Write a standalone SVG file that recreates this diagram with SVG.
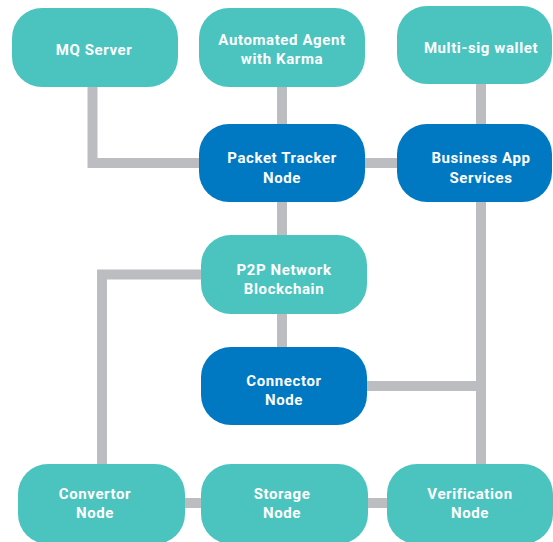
<svg xmlns="http://www.w3.org/2000/svg" width="553" height="542" viewBox="0 0 553 542">
  <style>
    .teal { fill: #4BC4C0; }
    .blue { fill: #0079C2; }
    .lbl { fill: #FFFFFF; font-family: Roboto, "Liberation Sans", sans-serif; font-weight: 700; font-size: 15px; letter-spacing: 0.6px; text-anchor: middle; }
    .wire { fill: none; stroke: #BCBDC0; stroke-width: 10; stroke-linejoin: miter; }
  </style>
  <rect width="553" height="542" fill="#FFFFFF"/>

  <!-- connectors drawn first so nodes sit on top -->
  <g id="connectors">
    <polyline class="wire" points="92.5,87 92.5,163 199,163"/>
    <line class="wire" x1="282" y1="87" x2="282" y2="124"/>
    <line class="wire" x1="481" y1="84" x2="481" y2="124"/>
    <line class="wire" x1="365" y1="163" x2="397" y2="163"/>
    <line class="wire" x1="282" y1="202" x2="282" y2="235"/>
    <line class="wire" x1="282" y1="314" x2="282" y2="347"/>
    <polyline class="wire" points="201,274.5 102,274.5 102,464"/>
    <line class="wire" x1="367" y1="386" x2="481" y2="386"/>
    <line class="wire" x1="481" y1="202" x2="481" y2="464"/>
    <line class="wire" x1="185" y1="503" x2="201" y2="503"/>
    <line class="wire" x1="368" y1="503" x2="387" y2="503"/>
  </g>

  <g id="mq-server">
    <rect class="teal" x="12" y="8" width="166" height="79" rx="30"/>
    <text class="lbl" x="94" y="55">MQ Server</text>
  </g>
  <g id="automated-agent">
    <rect class="teal" x="199" y="8" width="166" height="79" rx="30"/>
    <text class="lbl" x="282" y="45">Automated Agent</text>
    <text class="lbl" x="282" y="64">with Karma</text>
  </g>
  <g id="multisig-wallet">
    <rect class="teal" x="397" y="6" width="155" height="78" rx="30"/>
    <text class="lbl" x="481" y="53">Multi-sig wallet</text>
  </g>
  <g id="packet-tracker">
    <rect class="blue" x="199" y="124" width="166" height="78" rx="30"/>
    <text class="lbl" x="282" y="163">Packet Tracker</text>
    <text class="lbl" x="282" y="183">Node</text>
  </g>
  <g id="business-app">
    <rect class="blue" x="397" y="124" width="155" height="78" rx="30"/>
    <text class="lbl" x="481" y="163">Business App</text>
    <text class="lbl" x="481" y="183">Services</text>
  </g>
  <g id="p2p-network">
    <rect class="teal" x="201" y="235" width="166" height="79" rx="30"/>
    <text class="lbl" x="284" y="275">P2P Network</text>
    <text class="lbl" x="284" y="294">Blockchain</text>
  </g>
  <g id="connector-node">
    <rect class="blue" x="201" y="347" width="166" height="78" rx="30"/>
    <text class="lbl" x="284" y="386">Connector</text>
    <text class="lbl" x="284" y="405">Node</text>
  </g>
  <g id="convertor-node">
    <rect class="teal" x="18" y="464" width="167" height="80" rx="30"/>
    <text class="lbl" x="95" y="499">Convertor</text>
    <text class="lbl" x="95" y="518">Node</text>
  </g>
  <g id="storage-node">
    <rect class="teal" x="201" y="464" width="167" height="80" rx="30"/>
    <text class="lbl" x="282" y="499">Storage</text>
    <text class="lbl" x="282" y="518">Node</text>
  </g>
  <g id="verification-node">
    <rect class="teal" x="387" y="464" width="166" height="80" rx="30"/>
    <text class="lbl" x="470" y="499">Verification</text>
    <text class="lbl" x="470" y="518">Node</text>
  </g>
</svg>
